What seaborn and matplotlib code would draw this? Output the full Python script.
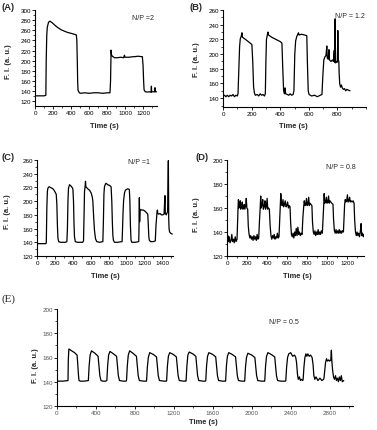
import matplotlib
matplotlib.use("Agg")
import matplotlib.pyplot as plt
from matplotlib.ticker import MultipleLocator
import seaborn as sns

# ---------------------------------------------------------------------------
# Data
# ---------------------------------------------------------------------------

# (A) N/P = 2
a_time = [0, 50, 100, 120, 124, 130, 136, 150, 166, 190, 220, 247, 290, 330, 358, 400,
          440, 457, 463, 468, 472, 476, 490, 506, 550, 600, 650, 700, 750, 800, 830,
          836, 842, 846, 856, 880, 908, 950, 980, 990, 995, 1040, 1080, 1096, 1140,
          1188, 1196, 1202, 1207, 1220, 1244, 1270, 1285, 1288, 1291, 1310, 1325,
          1328, 1331, 1345]
a_fi = [131, 131, 131, 132, 200, 250, 266, 276, 278, 275, 270, 266, 261, 258, 256, 254,
        252, 251, 240, 200, 160, 142, 137, 136, 137, 136, 137, 137, 136, 137, 137,
        160, 221, 212, 209, 206, 206, 207, 206, 211, 207, 207, 208, 208, 209,
        208, 190, 160, 143, 139, 138.5, 139, 138, 150, 139, 139, 139,
        147, 139, 139]

# (B) N/P = 1.2
b_time = [0, 10, 20, 30, 40, 50, 60, 70, 80, 90, 100, 105, 110, 116, 121, 127, 133, 136,
          150, 170, 190, 202, 208, 214, 220, 226, 240, 250, 260, 270, 280, 290, 296,
          300, 304, 310, 314, 318, 340, 360, 380, 400, 412, 418, 424, 430, 434, 438,
          450, 460, 470, 480, 490, 496, 502, 508, 516, 523, 528, 532, 550, 570, 586,
          590, 596, 602, 620, 640, 660, 680, 692, 698, 705, 712, 720, 726, 729, 736,
          741, 745, 755, 765, 772, 778, 780, 784, 787, 795, 800, 803, 806, 810, 812,
          816, 822, 828, 834, 842, 850, 858, 866, 876, 888]
b_fi = [143, 144, 142, 144, 142, 144, 143, 145, 142, 144, 143, 146, 175, 210, 221, 224, 229, 223,
        221, 218, 215, 213, 190, 155, 147, 144, 145, 143, 146, 144, 145, 143, 146,
        190, 220, 226, 230, 226, 223, 221, 219, 217, 215, 180, 150, 146, 154, 146,
        145, 144, 146, 144, 145, 150, 200, 218, 224, 227, 229, 226, 227, 226, 225,
        190, 150, 145, 143, 144, 142, 144, 145, 170, 192, 196, 198, 211, 195, 193,
        206, 192, 190, 192, 190, 205, 189, 248, 188, 190, 189, 232, 192, 190, 175,
        160, 155, 158, 154, 152, 153, 150, 152, 151, 150]

# (C) N/P = 1
c_time = [0, 50, 100, 104, 110, 116, 122, 135, 150, 165, 178, 195, 215, 222, 228, 234, 242,
          260, 290, 320, 334, 340, 346, 352, 364, 380, 392, 401, 408, 414, 419, 428,
          450, 480, 510, 520, 526, 531, 538, 542, 546, 560, 575, 587, 605, 618, 624,
          632, 642, 654, 668, 700, 736, 742, 748, 754, 765, 773, 790, 810, 828, 836,
          842, 848, 854, 866, 900, 951, 956, 962, 968, 978, 988, 1000, 1015, 1032,
          1038, 1044, 1051, 1060, 1100, 1137, 1140, 1144, 1147, 1152, 1170, 1190,
          1210, 1225, 1238, 1244, 1250, 1255, 1270, 1300, 1322, 1330, 1338, 1342,
          1346, 1350, 1360, 1375, 1390, 1405, 1420, 1430, 1434, 1445, 1460, 1468,
          1472, 1476, 1482, 1495, 1512]
c_fi = [138, 138, 138, 140, 190, 214, 219, 221, 220, 219, 218, 215, 210, 195, 165, 146, 141,
        140, 140, 140, 141, 160, 200, 219, 224, 222, 220, 218, 200, 165, 148, 141,
        140, 140, 140, 142, 180, 214, 222, 229, 221, 219, 217, 216, 212, 206, 200,
        180, 158, 145, 141, 140, 141, 170, 210, 221, 225, 226, 224, 223, 221, 200,
        170, 150, 143, 140, 140, 141, 160, 185, 201, 212, 216, 217, 218, 217,
        200, 165, 143, 140, 140, 141, 160, 205, 170, 188, 187, 187,
        185, 183, 181, 165, 148, 143, 141, 141, 142, 165, 178, 185,
        187, 182, 181, 182, 180, 180, 181, 208, 182, 180, 185, 259,
        175, 160, 155, 153, 152]

# (D) N/P = 0.8
d_time = [0, 8, 14, 22, 30, 40, 48, 55, 65, 72, 82, 90, 100,
          106, 110, 114, 118, 126, 132, 136, 145, 152, 158, 166, 172, 178, 186, 192, 198, 206,
          212, 220, 228, 236, 244, 252, 260, 268, 276, 284, 292, 300, 308, 316,
          324, 330, 336, 340, 348, 356, 362, 370, 378, 384, 392, 400, 406, 414, 422,
          430, 438, 446, 454, 462, 470, 478, 486, 494, 502, 510, 518,
          526, 532, 536, 542, 550, 558, 564, 572, 580, 588, 596, 604, 612, 620, 628,
          634, 642, 650, 658, 666, 674, 682, 690, 698, 706, 714, 722, 730, 740, 748,
          756, 764, 770, 776, 784, 792, 798, 806, 814, 820, 828, 836, 846,
          852, 860, 868, 876, 884, 892, 900, 908, 916, 924, 932, 940, 950,
          958, 964, 968, 974, 982, 990, 996, 1004, 1012, 1018, 1026, 1034, 1044, 1056,
          1062, 1070, 1078, 1086, 1094, 1102, 1110, 1118, 1126, 1134, 1142, 1150, 1160,
          1166, 1172, 1178, 1184, 1192, 1200, 1206, 1214, 1222, 1228, 1236, 1246, 1256, 1266,
          1272, 1280, 1288, 1296, 1304, 1312, 1320, 1328, 1336, 1342, 1350, 1358, 1366]
d_fi = [134, 137, 132, 136, 131, 133, 138, 132, 134, 131, 136, 132, 134,
        150, 160, 167, 160, 161, 166, 159, 161, 165, 159, 160, 163, 159, 162, 168, 160, 159,
        145, 138, 135, 137, 134, 136, 133, 137, 134, 136, 133, 138, 134, 135,
        150, 159, 170, 160, 162, 167, 159, 161, 166, 159, 161, 168, 159, 160, 159,
        145, 137, 134, 137, 135, 138, 134, 136, 135, 139, 135, 136,
        152, 163, 172, 163, 162, 167, 161, 163, 166, 161, 162, 165, 160, 162, 161,
        148, 138, 136, 139, 135, 140, 137, 143, 137, 144, 138, 140, 137, 139, 138,
        152, 161, 166, 162, 163, 168, 162, 163, 169, 162, 164, 163, 162,
        148, 140, 138, 141, 137, 140, 138, 142, 138, 140, 138, 141, 139,
        152, 163, 172, 164, 165, 169, 164, 165, 170, 164, 166, 165, 164, 163,
        150, 141, 139, 142, 139, 141, 139, 142, 139, 141, 139, 141, 140,
        152, 163, 167, 165, 166, 171, 165, 166, 169, 165, 166, 165, 166, 164,
        150, 140, 137, 140, 137, 139, 136, 140, 147, 137, 139, 136, 138]

# (E) N/P = 0.5
e_time = [0, 60, 113, 116, 122, 150, 180, 206, 212, 220, 226, 240, 280,
          322, 330, 340, 354, 390, 422, 430, 440, 452, 470, 500,
          512, 520, 530, 544, 580, 612, 620, 630, 642, 680, 708,
          714, 722, 732, 746, 780, 816, 824, 834, 846, 890, 918,
          920, 928, 938, 952, 990, 1022, 1030, 1040, 1052, 1100, 1124,
          1126, 1134, 1144, 1158, 1195, 1226, 1234, 1244, 1256, 1300, 1324,
          1326, 1334, 1344, 1358, 1395, 1426, 1434, 1444, 1456, 1500, 1524,
          1528, 1536, 1546, 1560, 1600, 1630, 1638, 1648, 1660, 1700, 1730,
          1732, 1740, 1750, 1764, 1800, 1834, 1842, 1852, 1864, 1900, 1926,
          1928, 1936, 1946, 1960, 2000, 2032, 2040, 2050, 2062, 2100, 2132,
          2134, 2142, 2152, 2166, 2200, 2236, 2244, 2254, 2266, 2300, 2346,
          2350, 2358, 2368, 2380, 2400, 2420, 2440, 2452, 2460, 2470, 2478, 2490, 2500, 2510, 2524,
          2528, 2536, 2546, 2556, 2566, 2576, 2590, 2604, 2620, 2630, 2638, 2648, 2660, 2680, 2700, 2720, 2738,
          2742, 2750, 2758, 2768, 2778, 2790, 2800, 2812, 2818, 2822, 2830, 2840, 2850, 2860, 2870,
          2880, 2890, 2900, 2910, 2920, 2930, 2945]
e_fi = [140.5, 140.5, 141, 158, 167, 165.5, 164, 162, 156, 146, 141, 140.5, 140.5,
        141, 153, 162, 165.5, 163.5, 161, 154, 145, 141, 140.5, 140.5,
        141, 153, 162, 165, 163, 161, 154, 145, 141, 140.5, 140.5,
        141, 153, 162, 165.5, 163.5, 161, 154, 145, 141, 140.5, 140.5,
        141, 152, 160, 164, 162.5, 160.5, 154, 145, 141, 140.5, 140.5,
        141, 153, 161, 164, 162.5, 160.5, 154, 145, 141, 140.5, 140.5,
        141, 153, 162, 164.5, 163, 161, 154, 145, 141, 140.5, 140.5,
        141, 153, 161, 164, 162.5, 160.5, 154, 145, 141, 140.5, 140.5,
        141, 153, 161, 164, 162.5, 160.5, 154, 145, 141, 140.5, 140.5,
        141, 152, 160, 163.5, 162, 160, 153, 145, 141, 140.5, 140.5,
        141, 153, 161, 164, 162.5, 160.5, 154, 145, 141, 140.5, 140.5,
        141, 152, 160, 163, 164, 161, 162, 160, 156, 146, 142, 144, 141, 142, 141,
        142, 152, 160, 163, 161, 163, 161, 162, 160, 154, 145, 142, 144, 141, 143, 141, 142,
        143, 150, 156, 159, 157, 158, 157, 158, 166, 158, 150, 144, 142, 145, 141,
        143, 140, 144, 141, 145, 140, 141]

PANELS = [
    # label, N/P text, x, y, xlim, ylim, xstep, ystep, rect in pixels (left, top, right, bottom)
    ('(A)', 'N/P =2', a_time, a_fi, (0, 1350), (111, 300), 200, 20, (35, 11, 157, 107)),
    ('(B)', 'N/P = 1.2', b_time, b_fi, (0, 1000), (128, 260), 200, 20, (223, 11, 366, 108)),
    ('(C)', 'N/P =1', c_time, c_fi, (0, 1520), (120, 260), 200, 20, (37, 161, 173, 257)),
    ('(D)', 'N/P = 0.8', d_time, d_fi, (0, 1365), (120, 200), 200, 20, (227, 161, 364, 257)),
    ('(E)', 'N/P = 0.5', e_time, e_fi, (0, 3040), (120, 200), 400, 20, (57, 310, 353, 407)),
]

# text anchor positions in pixels
LABEL_POS = {'(A)': (1, 8), '(B)': (189, 8), '(C)': (2, 158), '(D)': (195, 158), '(E)': (2, 299)}
NP_POS = {'(A)': (132, 18), '(B)': (335, 16), '(C)': (128, 163), '(D)': (326, 168), '(E)': (269, 323)}
XLAB_POS = {'(A)': (104, 126), '(B)': (293, 126), '(C)': (105, 276), '(D)': (297, 276), '(E)': (203, 423)}
YLAB_POS = {'(A)': (8.5, 62), '(B)': (196, 60), '(C)': (7.5, 212), '(D)': (196, 215), '(E)': (35.5, 366)}

W, H = 377, 431

sns.set_theme(style='ticks')
plt.rcParams['font.family'] = ['Liberation Sans', 'DejaVu Sans']


def fx(x):
    return x / W


def fy(y):
    return 1 - y / H


fig = plt.figure(figsize=(W / 100, H / 100), dpi=100)

for lab, np_text, t, v, xlim, ylim, xstep, ystep, (l, tp, r, b) in PANELS:
    ax = fig.add_axes([fx(l), fy(b), (r - l) / W, (b - tp) / H])
    sns.lineplot(x=t, y=v, ax=ax, color='black', lw=0.9, sort=False, estimator=None)
    ax.set_xlim(*xlim)
    ax.set_ylim(*ylim)
    ax.xaxis.set_major_locator(MultipleLocator(xstep))
    ax.xaxis.set_minor_locator(MultipleLocator(xstep / 2))
    ax.yaxis.set_major_locator(MultipleLocator(ystep))
    ax.yaxis.set_minor_locator(MultipleLocator(ystep / 2))
    ax.set_xticks([tk for tk in ax.get_xticks() if xlim[0] <= tk <= xlim[1] - 40])
    ax.set_yticks([tk for tk in ax.get_yticks() if ylim[0] <= tk <= ylim[1]])
    sns.despine(ax=ax)
    for s in ('left', 'bottom'):
        ax.spines[s].set_linewidth(0.8)
        ax.spines[s].set_color('black')
    tick_col = '#555555' if lab == '(E)' else 'black'
    ax.tick_params(which='major', direction='out', length=2, width=0.6, pad=1,
                   labelsize=4.5, colors='black', labelcolor=tick_col)
    ax.tick_params(which='minor', direction='out', length=1.2, width=0.5, colors='black')
    ax.set_xlabel('')
    ax.set_ylabel('')

    if lab == '(E)':
        fig.text(fx(LABEL_POS[lab][0]), fy(LABEL_POS[lab][1]), lab, fontsize=8,
                 family=['Liberation Serif', 'DejaVu Serif'], ha='left', va='center')
    else:
        fig.text(fx(LABEL_POS[lab][0]), fy(LABEL_POS[lab][1]), lab, fontsize=6.8,
                 fontweight='bold', ha='left', va='center')
    fig.text(fx(NP_POS[lab][0]), fy(NP_POS[lab][1]), np_text, fontsize=5,
             ha='left', va='center')
    fig.text(fx(XLAB_POS[lab][0]), fy(XLAB_POS[lab][1]), 'Time (s)', fontsize=5.4,
             fontweight='bold', ha='center', va='center')
    fig.text(fx(YLAB_POS[lab][0]), fy(YLAB_POS[lab][1]), 'F. I. (a. u.)', fontsize=5.4,
             fontweight='bold', ha='center', va='center', rotation=90)

fig.savefig('out.png', dpi=100, facecolor='white')
